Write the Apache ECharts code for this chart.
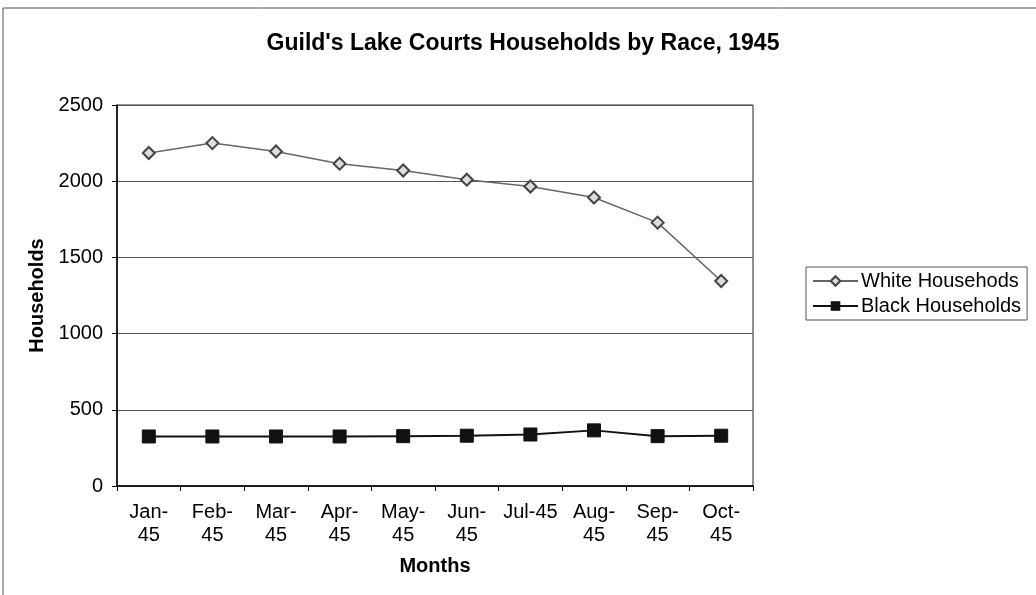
<!DOCTYPE html>
<html>
<head>
<meta charset="utf-8">
<script src="https://cdn.jsdelivr.net/npm/echarts@6/dist/echarts.min.js"></script>
<style>
  html, body { margin: 0; padding: 0; background: #fff; }
  #main { width: 1036px; height: 595px; }
</style>
</head>
<body>
<div id="main"></div>
<script>
// months of 1945
var months = ['Jan-\n45', 'Feb-\n45', 'Mar-\n45', 'Apr-\n45', 'May-\n45', 'Jun-\n45', 'Jul-45', 'Aug-\n45', 'Sep-\n45', 'Oct-\n45'];
var whiteHouseholds = [2185, 2250, 2195, 2115, 2070, 2010, 1965, 1893, 1728, 1345];
var blackHouseholds = [325, 325, 325, 325, 327, 330, 338, 365, 327, 330];
var yTicks = [0, 500, 1000, 1500, 2000, 2500];

var font = 'Arial, "Liberation Sans", sans-serif';

var myChart = echarts.init(document.getElementById('main'));
var option = {
    animation: false,
    backgroundColor: '#fff',
    title: {
        text: "Guild's Lake Courts Households by Race, 1945",
        left: 518,
        top: 27,
        textAlign: 'center',
        textStyle: { fontFamily: font, fontSize: 23, fontWeight: 'bold', color: '#000' }
    },
    graphic: [{
        type: 'rect',
        shape: { x: 3, y: 8, width: 1040, height: 600 },
        style: { fill: 'none', stroke: '#555', lineWidth: 1 }
    }],
    legend: {
        orient: 'vertical',
        left: 806,
        top: 267,
        padding: [4, 6, 4, 6],
        itemGap: 5,
        itemWidth: 45,
        itemHeight: 12,
        borderColor: '#555',
        borderWidth: 1,
        textStyle: { fontFamily: font, fontSize: 20, color: '#000', padding: [0, 0, 0, -2] },
        data: ['White Househods', 'Black Households']
    },
    grid: {
        left: 117,
        right: 283,
        top: 105,
        bottom: 109,
        show: true,
        borderColor: '#222',
        borderWidth: 1
    },
    xAxis: {
        type: 'category',
        data: months,
        boundaryGap: true,
        name: 'Months',
        nameLocation: 'middle',
        nameGap: 70,
        nameTextStyle: { fontFamily: font, fontSize: 20, fontWeight: 'bold', color: '#000' },
        axisLine: { lineStyle: { color: '#000', width: 1.5 } },
        axisTick: { show: true, interval: 0, length: 5, lineStyle: { color: '#000' } },
        axisLabel: { interval: 0, hideOverlap: false, fontFamily: font, fontSize: 20, color: '#000', margin: 15, lineHeight: 23 }
    },
    yAxis: {
        type: 'value',
        min: yTicks[0],
        max: yTicks[yTicks.length - 1],
        interval: 500,
        name: 'Households',
        nameLocation: 'middle',
        nameGap: 70,
        nameTextStyle: { fontFamily: font, fontSize: 20, fontWeight: 'bold', color: '#000' },
        axisLine: { show: true, lineStyle: { color: '#000', width: 1.5 } },
        axisTick: { show: true, length: 5, lineStyle: { color: '#000' } },
        axisLabel: { fontFamily: font, fontSize: 20, color: '#000', margin: 14, formatter: function (v) { return String(v); } },
        splitLine: { show: true, lineStyle: { color: '#555', width: 1 } }
    },
    series: [{
        name: 'White Househods',
        type: 'line',
        data: whiteHouseholds,
        symbol: 'diamond',
        symbolSize: 12,
        lineStyle: { color: '#666', width: 1.5 },
        itemStyle: { color: '#ddd', borderColor: '#444', borderWidth: 2 }
    }, {
        name: 'Black Households',
        type: 'line',
        data: blackHouseholds,
        symbol: 'rect',
        symbolSize: 13,
        lineStyle: { color: '#111', width: 2 },
        itemStyle: { color: '#111', borderColor: '#111' }
    }]
};
myChart.setOption(option);
</script>
</body>
</html>
